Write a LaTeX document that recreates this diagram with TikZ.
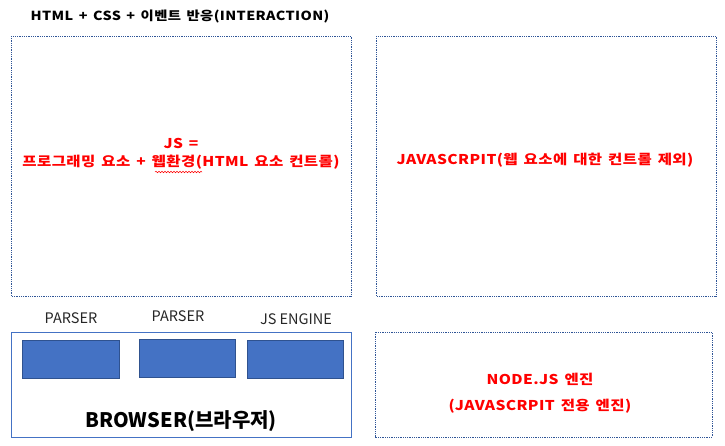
\documentclass[tikz,border=0pt]{standalone}
\usepackage{fontspec}
\setmainfont{Noto Sans CJK KR}
\newfontfamily\kr{Noto Sans CJK KR}
\newfontfamily\krw{Noto Sans CJK KR}[FakeStretch=1.15, LetterSpace=3, WordSpace=1.5]
\usetikzlibrary{decorations.pathmorphing}
\definecolor{dotblue}{HTML}{2F5597}
\definecolor{accent}{HTML}{4472C4}
\definecolor{accentdark}{HTML}{2F528F}
\definecolor{redtxt}{HTML}{FF0000}
\tikzset{
  dotbox/.style={draw=dotblue, densely dotted, line width=0.8pt},
  solidbox/.style={draw=accent, line width=0.8pt},
  comp/.style={draw=accentdark, fill=accent, line width=0.6pt},
  redlabel/.style={text=redtxt, font=\krw\bfseries\fontsize{13.5}{15}\selectfont, align=center, inner sep=0pt},
  complabel/.style={font=\kr\fontsize{14.5}{16}\selectfont, inner sep=0pt, text=black!85},
}
\begin{document}
\begin{tikzpicture}[x=1pt,y=-1pt]
\useasboundingbox (0,0) rectangle (725,445);
\fill[white] (0,0) rectangle (725,445);
\node[font=\krw\bfseries\fontsize{12.5}{14}\selectfont, inner sep=0pt] (title) at (180,16) {HTML + CSS + 이벤트 반응(INTERACTION)};
\draw[dotbox] (11,36) rectangle (351,296);
\node[redlabel] (jsline1) at (181,143) {JS =};
\node[redlabel] (jsline2) at (181,162) {프로그래밍 요소 + 웹환경(HTML 요소 컨트롤)};
\draw[redtxt, line width=0.5pt, decoration={snake, amplitude=0.8pt, segment length=3pt}, decorate] (155,172) -- (202,172);
\draw[dotbox] (376,36) rectangle (716,296);
\node[redlabel] (jsonly) at (545,160) {JAVASCRPIT(웹 요소에 대한 컨트롤 제외)};
\draw[solidbox] (11,332) rectangle (351,437);
\node[comp, minimum width=97pt, minimum height=38pt, inner sep=0pt] (p1) at (70.5,359) {};
\node[comp, minimum width=96pt, minimum height=38pt, inner sep=0pt] (p2) at (187,358) {};
\node[comp, minimum width=96pt, minimum height=38pt, inner sep=0pt] (p3) at (295,359) {};
\node[complabel] (l1) at (71,318) {PARSER};
\node[complabel] (l2) at (178,316) {PARSER};
\node[complabel] (l3) at (296,319) {JS ENGINE};
\node[font=\kr\bfseries\fontsize{20}{22}\selectfont, inner sep=0pt] (browser) at (181,421) {BROWSER(브라우저)};
\draw[dotbox] (375,332) rectangle (712,437);
\node[redlabel] (node1) at (540,379) {NODE.JS 엔진};
\node[redlabel] (node2) at (540,406) {(JAVASCRPIT 전용 엔진)};
\end{tikzpicture}
\end{document}
